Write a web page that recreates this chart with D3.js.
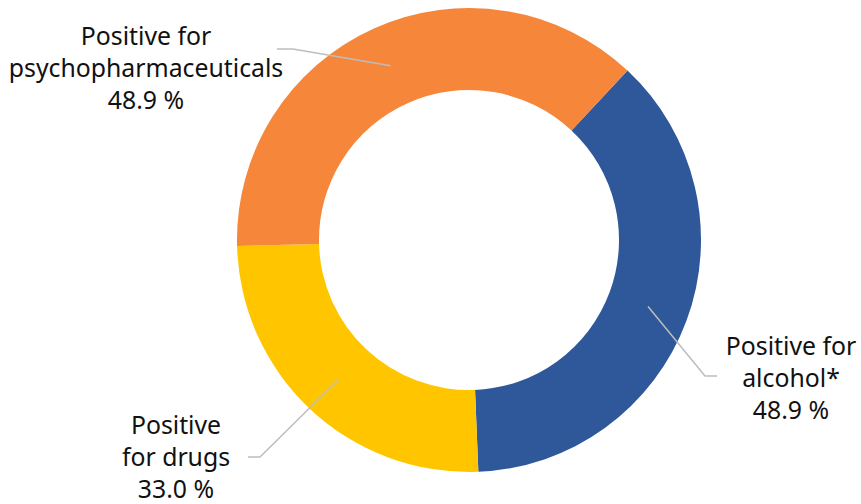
<!DOCTYPE html>
<html>
<head>
<meta charset="utf-8">
<script src="https://cdn.jsdelivr.net/npm/d3@7"></script>
<style>
  body { margin: 0; background: #fff; }
  text { font-family: 'Noto Sans', sans-serif; fill: #111; }
</style>
</head>
<body>
<div id="app"></div>
<script>
// Data
const categories = ['alcohol', 'drugs', 'psychopharmaceuticals'];
const values = [48.9, 33.0, 48.9];
const labelLines = [
  ['Positive for', 'alcohol*', '48.9 %'],
  ['Positive', 'for drugs', '33.0 %'],
  ['Positive for', 'psychopharmaceuticals', '48.9 %'],
];
const colors = ['#2E5899', '#FFC600', '#F5863A'];

// Constants
const width = 861;
const height = 504;
const cx = 469;
const cy = 240;
const outerR = 232;
const innerR = 150;
const startDeg = 43.1;

// label layout: elbow point, line end, text position
const labelLayout = [
  { elbow: [705, 376], end: [717, 376], x: 791, y: 355 },
  { elbow: [260, 457], end: [248, 457], x: 176, y: 434 },
  { elbow: [293, 49], end: [277, 49], x: 146, y: 45 },
];
const lineStep = 32;

const svg = d3.select('#app')
  .append('svg')
  .attr('width', width)
  .attr('height', height);

const g = svg.append('g')
  .attr('transform', `translate(${cx}, ${cy})`);

const start = startDeg * Math.PI / 180;
const pie = d3.pie()
  .sort(null)
  .startAngle(start)
  .endAngle(start + 2 * Math.PI);

const arc = d3.arc()
  .innerRadius(innerR)
  .outerRadius(outerR);

const arcs = pie(values);

g.selectAll('path')
  .data(arcs)
  .join('path')
  .attr('d', arc)
  .attr('fill', (d, i) => colors[i]);

// Leader lines
svg.selectAll('polyline')
  .data(arcs)
  .join('polyline')
  .attr('points', (d, i) => {
    const c = arc.centroid(d);
    const l = labelLayout[i];
    return [[c[0] + cx, c[1] + cy], l.elbow, l.end].map((p) => p.join(',')).join(' ');
  })
  .attr('fill', 'none')
  .attr('stroke', '#BDBDBD')
  .attr('stroke-width', 1.5);

// Labels
const labels = svg.selectAll('g.label')
  .data(categories)
  .join('g')
  .attr('class', 'label');

labels.each(function (d, i) {
  const l = labelLayout[i];
  d3.select(this).selectAll('text')
    .data(labelLines[i])
    .join('text')
    .attr('x', l.x)
    .attr('y', (t, j) => l.y + j * lineStep)
    .attr('text-anchor', 'middle')
    .style('font-size', '24.8px')
    .text((t) => t);
});
</script>
</body>
</html>
